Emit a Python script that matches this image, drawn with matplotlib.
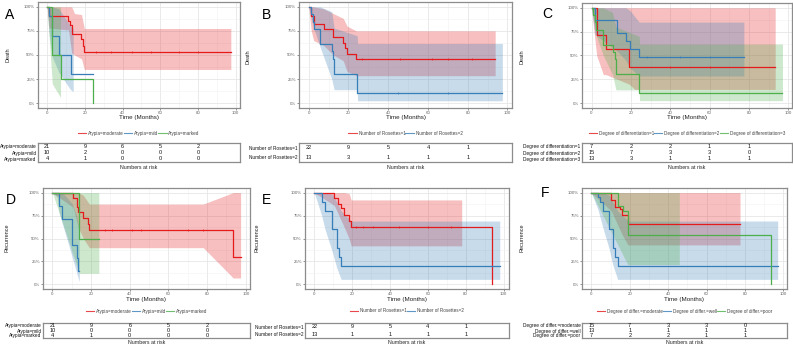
import matplotlib
matplotlib.use("Agg")
import matplotlib.pyplot as plt
from matplotlib.lines import Line2D
from matplotlib.ticker import MultipleLocator, PercentFormatter
import numpy as np

plt.rcParams['font.family'] = ['Liberation Sans', 'DejaVu Sans']

W, H = 793, 346
RED, BLUE, GREEN = "#E41A1C", "#377EB8", "#4DAF4A"
RISK_TIMES = [0, 20, 40, 60, 80]

# ---------------- A: death, atypia
a_labels = ["Atypia=moderate", "Atypia=mild", "Atypia=marked"]
a_risk = [[21, 9, 6, 5, 2], [10, 2, 0, 0, 0], [4, 1, 0, 0, 0]]
a_mod_t = [0, 1.0, 11.3, 12.0, 13.0, 18.2, 19.0, 19.7, 97.4]
a_mod_s = [1, 0.905, 0.857, 0.81, 0.714, 0.667, 0.595, 0.536, 0.536]
a_mod_ci_t = [0, 1.0, 11.3, 13.0, 14.5, 18.2, 19.7, 97.4]
a_mod_lo = [1, 0.78, 0.76, 0.52, 0.50, 0.46, 0.35, 0.35]
a_mod_hi = [1, 1, 1, 1, 0.93, 0.92, 0.775, 0.775]
a_mod_cens = [26, 34, 45, 55, 70, 80]
a_mild_t = [0, 1.0, 2.7, 6.2, 12.4, 24.3]
a_mild_s = [1, 0.9, 0.7, 0.5, 0.3, 0.3]
a_mild_ci_t = [0, 1.0, 2.7, 6.2, 12.4, 13.8]
a_mild_lo = [1, 0.72, 0.48, 0.32, 0.14, 0.12]
a_mild_hi = [1, 1, 1, 0.98, 0.8, 0.78]
a_mark_t = [0, 2.7, 7.1, 24.3]
a_mark_s = [1, 0.5, 0.25, 0.0]
a_mark_ci_t = [0, 2.7, 7.1]
a_mark_lo = [1, 0.2, 0.06]
a_mark_hi = [1, 1, 1]

# ---------------- B: death, rosettes
b_labels = ["Number of Rosettes=1", "Number of Rosettes=2"]
b_risk = [[22, 9, 5, 4, 1], [13, 3, 1, 1, 1]]
b_r1_t = [0, 1.3, 2.5, 7.5, 12.4, 17.4, 18.5, 19.3, 24.0, 93.8]
b_r1_s = [1, 0.909, 0.818, 0.773, 0.682, 0.625, 0.568, 0.511, 0.455, 0.455]
b_r1_ci_t = [0, 1.3, 2.5, 7.5, 12.4, 17.4, 19.3, 24.0, 93.8]
b_r1_lo = [1, 0.75, 0.65, 0.6, 0.5, 0.44, 0.33, 0.285, 0.285]
b_r1_hi = [1, 1, 1, 0.98, 0.93, 0.88, 0.8, 0.75, 0.75]
b_r1_cens = [27, 46, 62, 70, 82]
b_r2_t = [0, 1.3, 2.0, 2.5, 5.8, 11.6, 12.4, 12.8, 24.4, 97.4]
b_r2_s = [1, 0.923, 0.846, 0.769, 0.615, 0.538, 0.461, 0.308, 0.103, 0.103]
b_r2_ci_t = [0, 1.3, 2.5, 5.8, 11.6, 12.8, 24.4, 24.6, 97.4]
b_r2_lo = [1, 0.88, 0.78, 0.58, 0.25, 0.14, 0.14, 0.025, 0.025]
b_r2_hi = [1, 1, 1, 1, 0.95, 0.78, 0.7, 0.62, 0.62]
b_r2_cens = [45, 70]

# ---------------- C: death, differentiation
c_labels = ["Degree of differentiation=1", "Degree of differentiation=2",
            "Degree of differentiation=3"]
c_risk = [[7, 2, 2, 1, 1], [15, 7, 3, 3, 0], [13, 3, 1, 1, 1]]
c_d1_t = [0, 2.6, 7.3, 19.1, 93.3]
c_d1_s = [1, 0.714, 0.571, 0.381, 0.381]
c_d1_ci_t = [0, 2.6, 6.0, 7.3, 19.1, 22.0, 93.3]
c_d1_lo = [1, 0.5, 0.3, 0.3, 0.2, 0.145, 0.145]
c_d1_hi = [1, 1, 1, 1, 1, 1, 1]
c_d1_cens = [40, 60]
c_d2_t = [0, 1.7, 12.8, 17.4, 19.6, 24.2, 77.4]
c_d2_s = [1, 0.867, 0.733, 0.65, 0.57, 0.487, 0.487]
c_d2_ci_t = [0, 1.7, 12.8, 17.4, 19.6, 24.2, 77.4]
c_d2_lo = [1, 0.72, 0.55, 0.45, 0.37, 0.285, 0.285]
c_d2_hi = [1, 1, 1, 1, 0.97, 0.85, 0.85]
c_d2_cens = [28, 45, 60]
c_d3_t = [0, 0.8, 1.7, 2.5, 6.0, 10.7, 12.0, 12.4, 24.2, 97.0]
c_d3_s = [1, 0.923, 0.846, 0.769, 0.615, 0.538, 0.462, 0.308, 0.103, 0.103]
c_d3_ci_t = [0, 2.5, 6.0, 10.7, 12.4, 24.2, 24.4, 97.0]
c_d3_lo = [1, 0.7, 0.5, 0.3, 0.14, 0.14, 0.027, 0.027]
c_d3_hi = [1, 1, 1, 0.95, 0.8, 0.7, 0.62, 0.62]

# ---------------- D: recurrence, atypia
d_labels = a_labels
d_risk = [[21, 9, 6, 5, 2], [10, 0, 0, 0, 0], [4, 1, 0, 0, 0]]
d_mod_t = [0, 10.7, 12.5, 13.4, 16.0, 18.2, 19.1, 93.5, 97.3]
d_mod_s = [1, 0.944, 0.84, 0.79, 0.726, 0.66, 0.593, 0.297, 0.297]
d_mod_ci_t = [0, 10.7, 13.4, 16.0, 19.1, 78.0, 93.5, 97.3]
d_mod_lo = [1, 0.84, 0.62, 0.5, 0.4, 0.4, 0.07, 0.07]
d_mod_hi = [1, 1, 1, 0.97, 0.875, 0.875, 1, 1]
d_mod_cens = [27, 31, 41, 46, 70, 78]
d_mild_t = [0, 3.5, 5.2, 10.2, 12.5, 13.4, 13.9]
d_mild_s = [1, 0.857, 0.714, 0.429, 0.286, 0.143, 0.143]
d_mild_ci_t = [0, 2.5, 3.5, 5.2, 10.2, 12.5, 13.9]
d_mild_lo = [1, 0.95, 0.78, 0.66, 0.3, 0.13, 0.03]
d_mild_hi = [1, 1, 1, 1, 0.88, 0.75, 0.6]
d_mark_t = [0, 13.9, 24.0]
d_mark_s = [1, 0.5, 0.5]
d_mark_ci_t = [0, 13.9, 24.0]
d_mark_lo = [1, 0.12, 0.12]
d_mark_hi = [1, 1, 1]

# ---------------- E: recurrence, rosettes
e_labels = b_labels
e_risk = [[22, 9, 5, 4, 1], [13, 1, 1, 1, 1]]
e_r1_t = [0, 10.6, 12.4, 14.2, 15.9, 18.4, 19.5, 94.0]
e_r1_s = [1, 0.94, 0.88, 0.827, 0.76, 0.69, 0.622, 0.0]
e_r1_ci_t = [0, 10.6, 15.9, 18.4, 19.5, 77.9]
e_r1_lo = [1, 0.86, 0.62, 0.5, 0.42, 0.42]
e_r1_hi = [1, 1, 1, 0.99, 0.92, 0.92]
e_r1_cens = [22, 26, 31, 45, 60, 72]
e_r2_t = [0, 3.9, 5.7, 9.6, 11.9, 13.1, 14.2, 98.0]
e_r2_s = [1, 0.9, 0.8, 0.6, 0.4, 0.3, 0.2, 0.2]
e_r2_ci_t = [0, 3.9, 5.7, 9.6, 11.9, 14.2, 19.5, 98.0]
e_r2_lo = [1, 0.75, 0.6, 0.35, 0.18, 0.055, 0.055, 0.055]
e_r2_hi = [1, 1, 1, 0.98, 0.9, 0.8, 0.69, 0.69]

# ---------------- F: recurrence, differentiation
f_labels = ["Degree of differ.=moderate", "Degree of differ.=well",
            "Degree of differ.=poor"]
f_risk = [[15, 7, 3, 3, 0], [13, 1, 1, 1, 1], [7, 2, 2, 1, 1]]
f_mod_t = [0, 10.4, 12.1, 14.8, 15.9, 19.0, 77.4]
f_mod_s = [1, 0.923, 0.846, 0.82, 0.755, 0.655, 0.655]
f_mod_ci_t = [0, 10.4, 15.9, 19.0, 77.4]
f_mod_lo = [1, 0.8, 0.55, 0.43, 0.43]
f_mod_hi = [1, 1, 1, 1, 1]
f_well_t = [0, 3.4, 4.3, 6.0, 9.4, 11.1, 12.5, 13.7, 97.0]
f_well_s = [1, 0.95, 0.9, 0.8, 0.6, 0.4, 0.3, 0.2, 0.2]
f_well_ci_t = [0, 3.4, 6.0, 9.4, 11.1, 13.7, 19.5, 97.0]
f_well_lo = [1, 0.82, 0.62, 0.38, 0.22, 0.055, 0.055, 0.055]
f_well_hi = [1, 1, 1, 0.97, 0.9, 0.8, 0.69, 0.69]
f_poor_t = [0, 13.8, 16.5, 19.0, 93.7]
f_poor_s = [1, 0.857, 0.8, 0.533, 0.0]
f_poor_ci_t = [0, 19.0, 45.8]
f_poor_lo = [1, 0.216, 0.216]
f_poor_hi = [1, 1, 1]


def rect(l, t, r, b):
    return [l / W, 1 - b / H, (r - l) / W, (b - t) / H]


def draw_panel(fig, plot_px, table_px, curves, labels, risk, letter,
               letter_xy, ylabel, ylabel_xy, xlab_y, leg_y, nar_y):
    ax = fig.add_axes(rect(*plot_px))
    xmax = max(max(c[0]) for c in curves)
    ax.set_xlim(-0.05 * xmax, 1.05 * xmax)
    ax.set_ylim(-0.05, 1.05)
    ax.xaxis.set_major_locator(MultipleLocator(20))
    ax.xaxis.set_minor_locator(MultipleLocator(10))
    ax.yaxis.set_major_locator(MultipleLocator(0.25))
    ax.yaxis.set_minor_locator(MultipleLocator(0.125))
    ax.yaxis.set_major_formatter(PercentFormatter(1.0, decimals=0))
    ax.grid(which='major', color='#E6E6E6', lw=0.6)
    ax.grid(which='minor', color='#F2F2F2', lw=0.4)
    ax.set_axisbelow(True)
    ax.tick_params(which='major', labelsize=3.2, labelcolor='#666666',
                   length=1.2, width=0.5, color='#666666', pad=1.0)
    ax.tick_params(which='minor', length=0)
    for sp in ax.spines.values():
        sp.set_color('#8c8c8c')
        sp.set_linewidth(0.9)

    for t, s, ct, lo, hi, cens, col in curves:
        ax.fill_between(ct, lo, hi, color=col, alpha=0.28, lw=0)
    for t, s, ct, lo, hi, cens, col in curves:
        ax.step(t, s, where='post', color=col, lw=0.9)
        if cens:
            idx = np.searchsorted(t, cens, side='right') - 1
            ax.plot(cens, np.asarray(s)[idx], ls='none', marker='|',
                    ms=2.0, mew=0.5, color=col)

    l, tp, r, b = plot_px
    cx = (l + r) / 2 / W
    fig.text(cx, 1 - xlab_y / H, "Time (Months)", ha='center', va='center',
             fontsize=4.5, color='#222222')
    fig.text(letter_xy[0] / W, 1 - letter_xy[1] / H, letter, ha='left',
             va='center', fontsize=10)
    fig.text(ylabel_xy[0] / W, 1 - ylabel_xy[1] / H, ylabel, ha='center',
             va='center', rotation=90, fontsize=4.0, color='#222222')

    handles = [Line2D([], [], color=c[-1], lw=0.8, alpha=0.8) for c in curves]
    fig.legend(handles, labels, loc='center', ncol=len(labels),
               bbox_to_anchor=(cx, 1 - leg_y / H), frameon=False,
               fontsize=3.3, handlelength=1.8, handletextpad=0.4,
               columnspacing=0.0, labelcolor='#444444', borderpad=0)

    at = fig.add_axes(rect(table_px[0], table_px[1], table_px[2], table_px[3]))
    at.set_xlim(ax.get_xlim())
    n = len(risk)
    at.set_ylim(n - 0.5, -0.5)
    for i, row in enumerate(risk):
        for x, v in zip(RISK_TIMES, row):
            at.text(x, i, str(v), ha='center', va='center', fontsize=4.0,
                    color='#111111')
    at.set_xticks([])
    at.set_yticks(range(n))
    at.set_yticklabels(labels, fontsize=3.4, color='#111111')
    at.tick_params(axis='y', length=0, pad=1.0)
    for sp in at.spines.values():
        sp.set_color('#8c8c8c')
        sp.set_linewidth(0.9)
    tcx = (table_px[0] + table_px[2]) / 2 / W
    fig.text(tcx, 1 - nar_y / H, "Numbers at risk", ha='center', va='center',
             fontsize=3.8, color='#222222')
    return ax


fig = plt.figure(figsize=(W / 100, H / 100), dpi=100)

panel_a = [
    (a_mod_t, a_mod_s, a_mod_ci_t, a_mod_lo, a_mod_hi, a_mod_cens, RED),
    (a_mild_t, a_mild_s, a_mild_ci_t, a_mild_lo, a_mild_hi, None, BLUE),
    (a_mark_t, a_mark_s, a_mark_ci_t, a_mark_lo, a_mark_hi, None, GREEN),
]
panel_b = [
    (b_r1_t, b_r1_s, b_r1_ci_t, b_r1_lo, b_r1_hi, b_r1_cens, RED),
    (b_r2_t, b_r2_s, b_r2_ci_t, b_r2_lo, b_r2_hi, b_r2_cens, BLUE),
]
panel_c = [
    (c_d1_t, c_d1_s, c_d1_ci_t, c_d1_lo, c_d1_hi, c_d1_cens, RED),
    (c_d2_t, c_d2_s, c_d2_ci_t, c_d2_lo, c_d2_hi, c_d2_cens, BLUE),
    (c_d3_t, c_d3_s, c_d3_ci_t, c_d3_lo, c_d3_hi, None, GREEN),
]
panel_d = [
    (d_mod_t, d_mod_s, d_mod_ci_t, d_mod_lo, d_mod_hi, d_mod_cens, RED),
    (d_mild_t, d_mild_s, d_mild_ci_t, d_mild_lo, d_mild_hi, None, BLUE),
    (d_mark_t, d_mark_s, d_mark_ci_t, d_mark_lo, d_mark_hi, None, GREEN),
]
panel_e = [
    (e_r1_t, e_r1_s, e_r1_ci_t, e_r1_lo, e_r1_hi, e_r1_cens, RED),
    (e_r2_t, e_r2_s, e_r2_ci_t, e_r2_lo, e_r2_hi, None, BLUE),
]
panel_f = [
    (f_mod_t, f_mod_s, f_mod_ci_t, f_mod_lo, f_mod_hi, None, RED),
    (f_well_t, f_well_s, f_well_ci_t, f_well_lo, f_well_hi, None, BLUE),
    (f_poor_t, f_poor_s, f_poor_ci_t, f_poor_lo, f_poor_hi, None, GREEN),
]

top = dict(xlab_y=118, leg_y=133, nar_y=167)
bot = dict(xlab_y=300, leg_y=311, nar_y=343)

draw_panel(fig, (38, 2, 240, 108), (38, 143, 240, 162), panel_a, a_labels,
           a_risk, "A", (5, 15), "Death", (8, 55), **top)
draw_panel(fig, (299, 2, 512, 108), (299, 143, 512, 162), panel_b, b_labels,
           b_risk, "B", (262, 15), "Death", (248, 57), **top)
draw_panel(fig, (582, 3, 792, 108), (582, 143, 792, 162), panel_c, c_labels,
           c_risk, "C", (542, 14), "Death", (522, 57), **top)
draw_panel(fig, (43, 188, 250, 289), (43, 323, 250, 338), panel_d, d_labels,
           d_risk, "D", (6, 200), "Recurrence", (7, 238), **bot)
draw_panel(fig, (305, 188, 509, 289), (305, 323, 509, 338), panel_e, e_labels,
           e_risk, "E", (262, 200), "Recurrence", (257, 238), **bot)
draw_panel(fig, (582, 188, 787, 289), (582, 323, 787, 338), panel_f, f_labels,
           f_risk, "F", (541, 193), "Recurrence", (522, 238), **bot)

fig.savefig("out.png", dpi=100)
